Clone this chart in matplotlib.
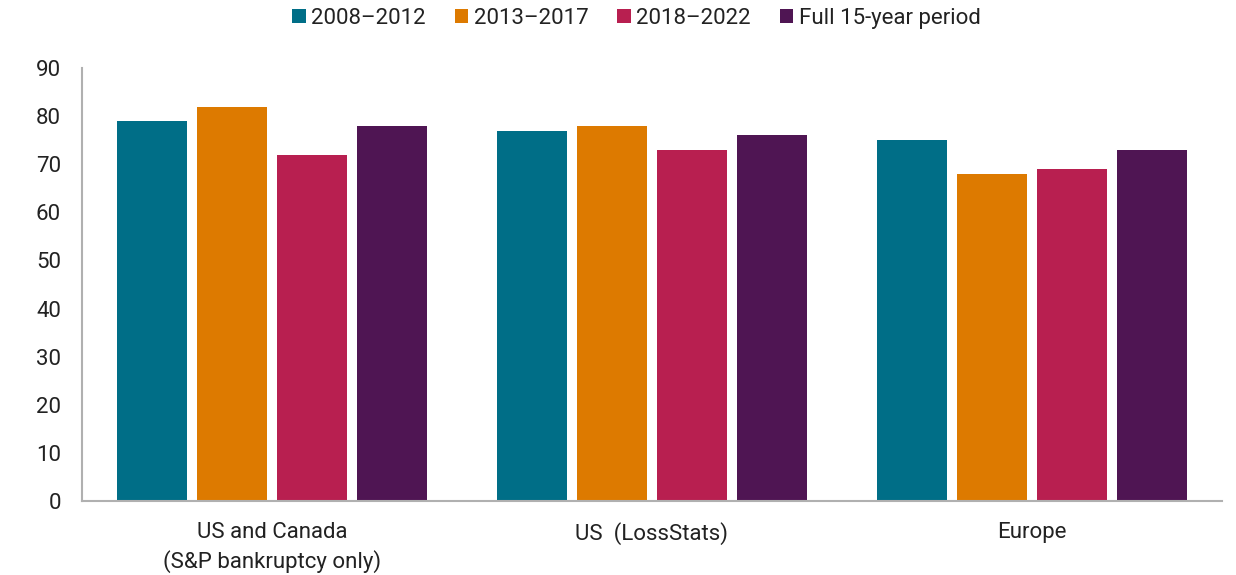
import numpy as np
import matplotlib.pyplot as plt
from matplotlib.patches import Patch

# Recovery data (%), by region and period
regions = ["US and Canada\n(S&P bankruptcy only)", "US  (LossStats)", "Europe"]
periods = ["2008\u20132012", "2013\u20132017", "2018\u20132022", "Full 15-year period"]
p2008_2012 = [79, 77, 75]
p2013_2017 = [82, 78, 68]
p2018_2022 = [72, 73, 69]
full_period = [78, 76, 73]
series = [p2008_2012, p2013_2017, p2018_2022, full_period]

COLORS = ["#006e87", "#dd7a00", "#b81f50", "#4f1553"]
TEXT = "#222222"
SPINE = "#b0b0b0"
FS = 16

plt.rcParams["font.family"] = ["Roboto", "DejaVu Sans"]

fig = plt.figure(figsize=(12.36, 5.75), dpi=100)
ax = fig.add_axes([0.0663, 0.1287, 0.9224, 0.753])

x = np.arange(len(regions))
width = 0.184
step = 0.2105
for i, vals in enumerate(series):
    ax.bar(x + (i - 1.5) * step, vals, width=width, color=COLORS[i], zorder=2)

ax.set_xlim(-0.5, 2.5)
ax.set_ylim(0, 90)
ax.set_yticks(range(0, 91, 10))
ax.set_xticks(x)
ax.set_xticklabels(regions, fontsize=FS, color=TEXT, linespacing=1.4)
ax.tick_params(axis="both", length=0, colors=TEXT, labelsize=FS)
ax.tick_params(axis="y", pad=15)
ax.tick_params(axis="x", pad=15)

for side in ["top", "right"]:
    ax.spines[side].set_visible(False)
for side in ["left", "bottom"]:
    ax.spines[side].set_color(SPINE)
    ax.spines[side].set_linewidth(1.5)

handles = [Patch(facecolor=c, edgecolor="none") for c in COLORS]
leg = fig.legend(handles, periods, loc="center", bbox_to_anchor=(0.515, 0.968),
                 ncol=4, frameon=False, fontsize=FS, handlelength=0.6,
                 handleheight=0.6, handletextpad=0.25, columnspacing=1.3)
for t in leg.get_texts():
    t.set_color(TEXT)

fig.savefig("out.png", dpi=100)
